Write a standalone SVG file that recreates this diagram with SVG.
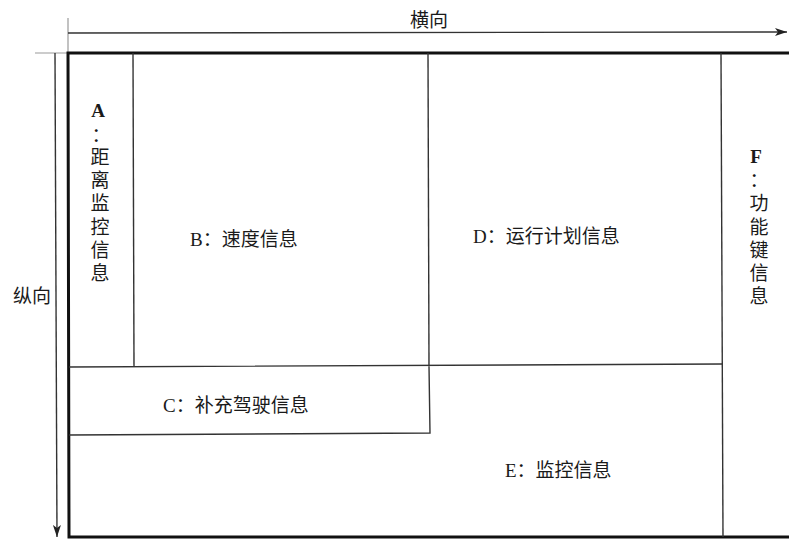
<svg xmlns="http://www.w3.org/2000/svg" width="789" height="539" viewBox="0 0 789 539">
<defs>
<marker id="ah" viewBox="0 0 12 8" refX="12" refY="4" markerWidth="12" markerHeight="8" markerUnits="userSpaceOnUse" orient="auto">
<path d="M0,0 L12,4 L0,8 L3,4 Z" fill="#222"/>
</marker>
<style>
.frame{fill:none;stroke:#111;stroke-width:3}
.div{fill:none;stroke:#333;stroke-width:1.4}
.axis{fill:none;stroke:#333;stroke-width:1.4}
.tick{fill:none;stroke:#999;stroke-width:1.2}
.t{font-family:"Liberation Serif","Noto Sans CJK SC",serif;font-size:19px;fill:#1a1a1a}
.v{text-anchor:middle}
.b{font-weight:bold}
</style>
</defs>
<rect width="789" height="539" fill="#fff"/>
<g id="connectors">
<line class="tick" x1="68" y1="18" x2="68" y2="53"/>
<line class="tick" x1="35" y1="53" x2="68" y2="53"/>
<line class="axis" x1="68" y1="33" x2="787" y2="32" marker-end="url(#ah)"/>
<line class="axis" x1="55" y1="53" x2="57" y2="537" marker-end="url(#ah)"/>
<text class="t" x="429" y="27" text-anchor="middle">横向</text>
<text class="t" x="32" y="303" text-anchor="middle">纵向</text>
</g>
<g id="frame">
<path class="frame" d="M789,53 L68,53 L69,537 L789,537"/>
</g>
<g id="A">
<line class="div" x1="133" y1="53" x2="134" y2="366"/>
<g class="t v">
<text class="b" x="98" y="117">A</text>
<text x="101" y="142">：</text>
<text x="100" y="164">距</text>
<text x="100" y="187">离</text>
<text x="100" y="210">监</text>
<text x="100" y="234">控</text>
<text x="100" y="257">信</text>
<text x="100" y="280">息</text>
</g>
</g>
<g id="B">
<line class="div" x1="428" y1="53" x2="429" y2="366"/>
<text class="t" x="190" y="246">B：速度信息</text>
</g>
<g id="C">
<path class="div" d="M69,367 L722,364 M69,435 L430,433 L429,366"/>
<text class="t" x="163" y="412">C：补充驾驶信息</text>
</g>
<g id="D">
<text class="t" x="473" y="243">D：运行计划信息</text>
</g>
<g id="E">
<text class="t" x="505" y="477">E：监控信息</text>
</g>
<g id="F">
<line class="div" x1="721" y1="53" x2="723" y2="537"/>
<g class="t v">
<text class="b" x="756" y="163">F</text>
<text x="759" y="187">：</text>
<text x="759" y="210">功</text>
<text x="759" y="234">能</text>
<text x="759" y="257">键</text>
<text x="759" y="280">信</text>
<text x="759" y="303">息</text>
</g>
</g>
</svg>
